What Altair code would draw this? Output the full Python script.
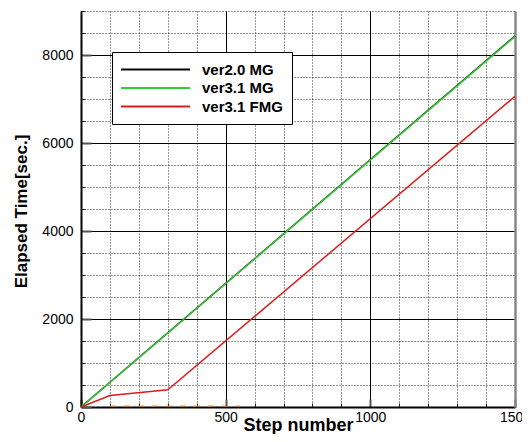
import altair as alt
import pandas as pd

# ---- data ----
series_names = ["ver2.0 MG", "ver3.1 MG", "ver3.1 FMG"]
series_colors = ["#000000", "#33cc33", "#dd1c1c"]

v20_steps = [0, 1500]
v20_time = [0, 8430]
v31_steps = [0, 1500]
v31_time = [0, 8420]
fmg_steps = [0, 100, 300, 1500]
fmg_time = [0, 260, 390, 7060]

extra_steps = [100, 550]
extra_time = [15, 15]

x_label_ticks = [0, 500, 1000, 1500]
x_major_grid = [500, 1000]
x_minor = [0, 100, 200, 300, 400, 500, 600, 700, 800, 900, 1000, 1100, 1200, 1300, 1400, 1500]
y_label_ticks = [0, 2000, 4000, 6000, 8000]
y_minor = [0, 500, 1000, 1500, 2000, 2500, 3000, 3500, 4000, 4500, 5000, 5500, 6000,
           6500, 7000, 7500, 8000, 8500, 9000]
x_domain = [0, 1500]
y_domain = [0, 9000]

rows = []
for name, xs, ys in [(series_names[0], v20_steps, v20_time),
                     (series_names[1], v31_steps, v31_time),
                     (series_names[2], fmg_steps, fmg_time)]:
    for s, t in zip(xs, ys):
        rows.append({"series": name, "step": s, "time": t})
df = pd.DataFrame(rows)
df_extra = pd.DataFrame({"step": extra_steps, "time": extra_time})

W, H = 434, 396
FONT = "Liberation Sans"

xscale = alt.Scale(domain=x_domain, nice=False, zero=False)
yscale = alt.Scale(domain=y_domain, nice=False, zero=False)

def blank(orient, **kw):
    base = dict(orient=orient, labels=False, ticks=False, domain=False, grid=False, title=None)
    base.update(kw)
    return alt.Axis(**base)

# minor dotted grid
minor = alt.Chart(df).mark_line(opacity=0).encode(
    x=alt.X("step:Q", scale=xscale, axis=blank("bottom", values=x_minor, grid=True,
            gridColor="#000000", gridDash=[1, 2], gridWidth=1, gridOpacity=0.85)),
    y=alt.Y("time:Q", scale=yscale, axis=blank("left", values=y_minor, grid=True,
            gridColor="#000000", gridDash=[1, 2], gridWidth=1, gridOpacity=0.85)),
)

# major solid grid
major = alt.Chart(df).mark_line(opacity=0).encode(
    x=alt.X("step:Q", scale=xscale, axis=blank("bottom", values=x_major_grid, grid=True,
            gridColor="#000000", gridWidth=1, gridOpacity=1)),
    y=alt.Y("time:Q", scale=yscale, axis=blank("left", values=y_label_ticks, grid=True,
            gridColor="#000000", gridWidth=1, gridOpacity=1)),
)

# inward minor ticks
ticks_minor = alt.Chart(df).mark_line(opacity=0).encode(
    x=alt.X("step:Q", scale=xscale, axis=blank("top", values=x_minor, ticks=True, offset=-H,
            tickSize=4, tickColor="#222222", tickWidth=1)),
    y=alt.Y("time:Q", scale=yscale, axis=blank("right", values=y_minor, ticks=True, offset=-W,
            tickSize=4, tickColor="#222222", tickWidth=1)),
)

# inward major ticks
ticks_major = alt.Chart(df).mark_line(opacity=0).encode(
    x=alt.X("step:Q", scale=xscale, axis=blank("top", values=x_label_ticks, ticks=True, offset=-H,
            tickSize=8, tickColor="#555555", tickWidth=2)),
    y=alt.Y("time:Q", scale=yscale, axis=blank("right", values=y_label_ticks, ticks=True, offset=-W,
            tickSize=10, tickColor="#555555", tickWidth=2)),
)

# right border
border = alt.Chart(df).mark_line(opacity=0).encode(
    x=alt.X("step:Q", scale=xscale, axis=None),
    y=alt.Y("time:Q", scale=yscale, axis=blank("right", domain=True, domainColor="#888888",
            domainWidth=2.5)),
)

extra = alt.Chart(df_extra).mark_line(color="#cc7a2a", strokeWidth=1.5, strokeDash=[6, 8],
                                      opacity=0.8).encode(
    x=alt.X("step:Q", scale=xscale, axis=None),
    y=alt.Y("time:Q", scale=yscale, axis=None),
)

lines = alt.Chart(df).mark_line(strokeWidth=1.5).encode(
    x=alt.X("step:Q", scale=xscale, axis=alt.Axis(
        orient="bottom", values=x_label_ticks, format="d", labelFlush=False,
        grid=False, ticks=False, domain=True,
        domainColor="#000000", domainWidth=2, labelPadding=3, labelFontSize=14,
        labelColor="#000000", title="Step number", titleFontSize=18, titleFontWeight="bold",
        titleColor="#000000", titleBaseline="alphabetic", titleY=23)),
    y=alt.Y("time:Q", scale=yscale, axis=alt.Axis(
        orient="left", values=y_label_ticks, format="d", labelFlush=False,
        grid=False, ticks=False, domain=True,
        domainColor="#000000", domainWidth=2, labelPadding=8, labelFontSize=14,
        labelColor="#000000", title="Elapsed Time[sec.]", titleFontSize=17,
        titleFontWeight="bold", titleColor="#000000", titleBaseline="alphabetic",
        titleX=-55, titleY=200)),
    color=alt.Color("series:N", sort=series_names,
                    scale=alt.Scale(domain=series_names, range=series_colors),
                    legend=alt.Legend(
                        title=None, orient="none", legendX=31, legendY=41,
                        fillColor="#ffffff", strokeColor="#000000", padding=9,
                        symbolType="M-1.13,0H8.07", symbolSize=225, symbolStrokeWidth=2,
                        labelOffset=64, labelFontSize=15, labelFontWeight="bold",
                        labelColor="#000000", rowPadding=1.5, symbolOpacity=1)),
)

chart = alt.layer(minor, major, ticks_minor, ticks_major, border, extra, lines).resolve_axis(
    x="independent", y="independent"
).properties(
    width=W, height=H,
    autosize=alt.AutoSizeParams(type="none"),
    padding={"left": 73, "top": 3, "right": 7, "bottom": 27},
    background="#ffffff",
).configure_view(stroke=None).configure_axis(
    labelFont=FONT, titleFont=FONT
).configure_legend(labelFont=FONT)

chart.save("out.html", embed_options={"renderer": "svg", "actions": False})
